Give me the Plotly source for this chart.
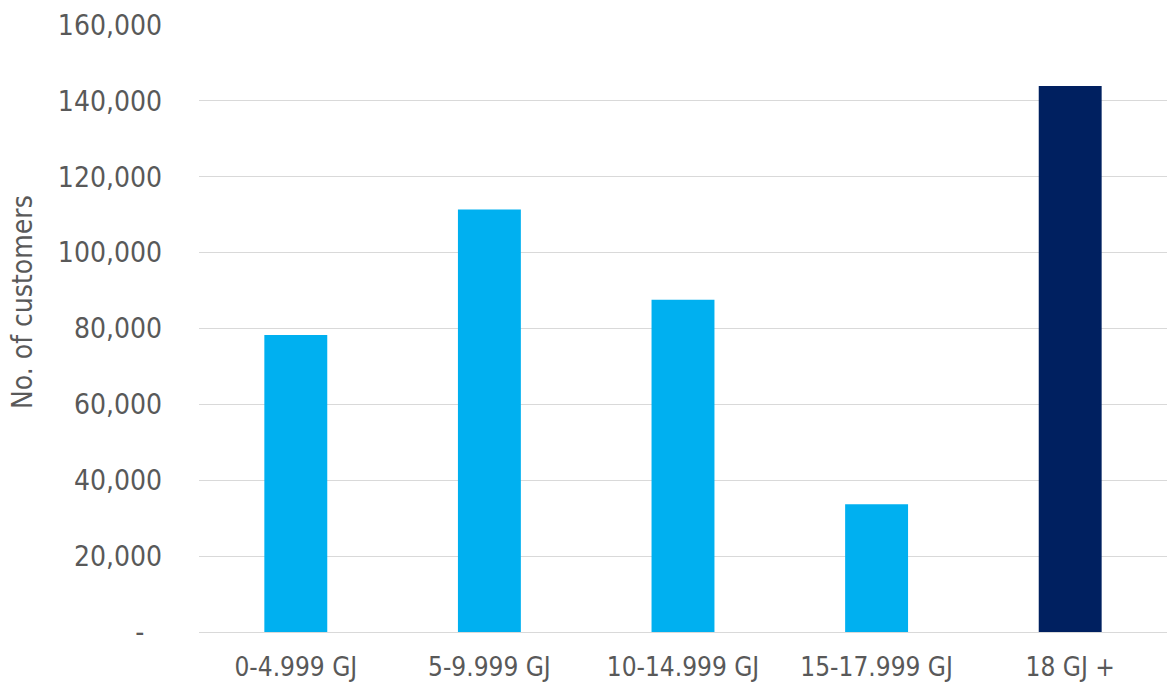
import plotly.graph_objects as go

categories = ["0-4.999 GJ", "5-9.999 GJ", "10-14.999 GJ", "15-17.999 GJ", "18 GJ +"]
customers = [78300, 111400, 87600, 33700, 143900]
bar_colors = ["#00B0F0", "#00B0F0", "#00B0F0", "#00B0F0", "#002060"]
tick_vals = [0, 20000, 40000, 60000, 80000, 100000, 120000, 140000, 160000]
tick_text = ["-\u2002\u2009", "20,000", "40,000", "60,000", "80,000", "100,000", "120,000", "140,000", "160,000"]
y_title = "No. of customers"

W, H = 1167, 684
ML, MR, MT, MB = 199, 0, 25, 52
FAM = "DejaVu Sans Condensed, DejaVu Sans"
GREY = "#595959"

fig = go.Figure(go.Bar(x=categories, y=customers, marker=dict(color=bar_colors, line=dict(width=0))))

fig.update_layout(
    width=W, height=H,
    margin=dict(l=ML, r=MR, t=MT, b=MB),
    paper_bgcolor="white", plot_bgcolor="white",
    bargap=0.675,
    showlegend=False,
    font=dict(family=FAM, size=28, color=GREY),
)
fig.update_xaxes(showgrid=False, showline=False, zeroline=False, ticks="", automargin=False,
                 tickfont=dict(family=FAM, size=26, color=GREY), ticklabelstandoff=17)
fig.update_yaxes(range=[0, 160000], tickvals=tick_vals, ticktext=tick_text, automargin=False,
                 showgrid=True, gridcolor="#D9D9D9", gridwidth=1.3,
                 zeroline=True, zerolinecolor="#D9D9D9", zerolinewidth=1.3,
                 showline=False, ticks="", tickfont=dict(family=FAM, size=28, color=GREY),
                 ticklabelstandoff=36)
fig.add_annotation(text=y_title, textangle=-90, xref="paper", yref="paper",
                   x=(22 - ML) / (W - ML - MR), y=(H - MB - 302) / (H - MT - MB),
                   xanchor="center", yanchor="middle", showarrow=False,
                   font=dict(family=FAM, size=28, color=GREY))

fig.write_html("out.html")
